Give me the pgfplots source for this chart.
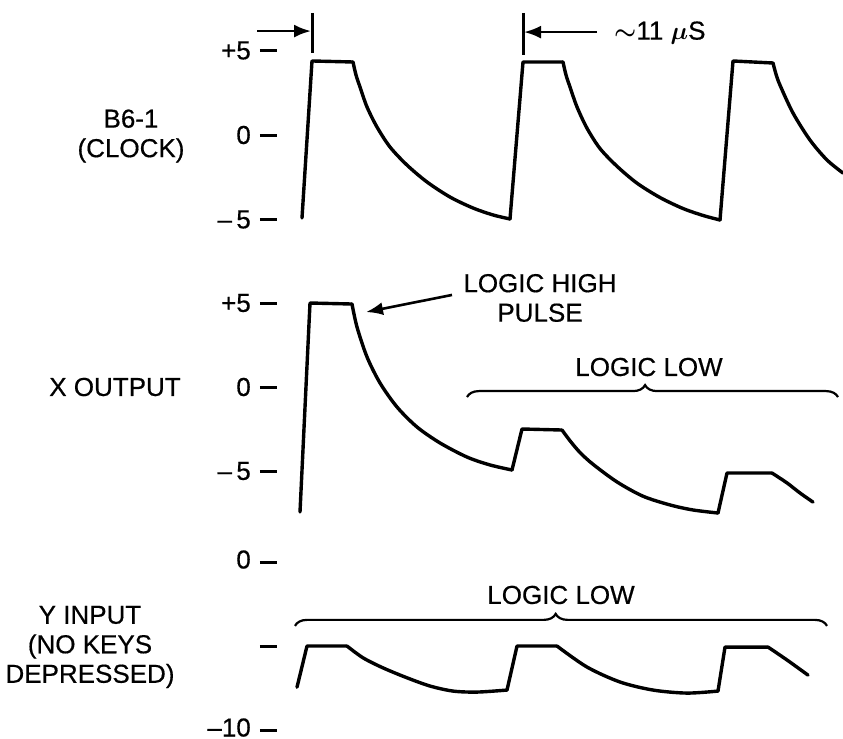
\documentclass[border=0pt]{standalone}
\usepackage{bm}
\usepackage{pgfplots}
\pgfplotsset{compat=1.18}
\usepackage{fontspec}
\setmainfont{Liberation Sans}[UprightFeatures={FakeBold=0.5}]
\usetikzlibrary{arrows.meta,decorations.pathreplacing}
\newcommand{\bigfont}{\fontsize{26bp}{29.5bp}\selectfont}
\pgfplotsset{
  wave/.style={
    scale only axis, width=566bp, xmin=277, xmax=843,
    axis x line=none, axis y line=left,
    y axis line style={draw=none,-},
    tick align=outside, major tick length=17bp,
    ytick pos=left,
    tick style={line width=3bp, black},
    yticklabel style={font=\bigfont, inner sep=0pt, xshift=-9bp},
    clip=false,
  },
  sig/.style={black, line width=3.4bp, line join=round, line cap=round, no marks},
  dec/.style={sig, smooth, tension=0.5},
}
\begin{document}
\begin{tikzpicture}[font=\bigfont]
\path[use as bounding box] (0,0) rectangle (843bp,-739bp);

% ---------- B6-1 (CLOCK) ----------
\begin{axis}[wave, ymin=-6, ymax=6, height=202.8bp,
  at={(277bp,-236.4bp)}, anchor=south west,
  ytick={-5,0,5}, yticklabels={\textendash\,5, 0, +5}]
\addplot[sig] coordinates {(302,-4.91) (312,4.38) (353,4.32)};
\addplot[dec] coordinates {
 (353,4.32) (356,3.55) (360,2.84) (367,1.66) (377,0.47)
 (390,-0.71) (407,-1.78) (427,-2.78) (450,-3.67) (473,-4.32) (493,-4.73) (510,-4.97)};
\addplot[sig] coordinates {(510,-4.97) (523,4.32) (563,4.32)};
\addplot[dec] coordinates {
 (563,4.32) (566,3.55) (570,2.84) (577,1.66) (587,0.40) (600,-0.80)
 (617,-1.85) (637,-2.85) (660,-3.70) (683,-4.35) (703,-4.76) (720,-5.03)};
\addplot[sig] coordinates {(720,-5.03) (733,4.38) (773,4.26)};
\addplot[dec] coordinates {
 (773,4.26) (776,3.60) (780,2.95) (793,1.30) (810,-0.30) (827,-1.48) (843,-2.25)};
\draw[line width=2.6bp, -{Latex[length=17bp,width=13bp]}] (axis cs:257,6.15) -- (axis cs:311,6.15);
\draw[line width=3bp] (axis cs:312,7.22) -- (axis cs:312,4.85);
\draw[line width=3bp] (axis cs:523,7.22) -- (axis cs:523,4.73);
\draw[line width=2.6bp, -{Latex[length=17bp,width=13bp]}] (axis cs:597,6.09) -- (axis cs:524,6.09);
\node[anchor=west, inner sep=0pt] at (axis cs:614,6.04) {$\bm{\sim}$11 $\bm{\mu}$S};
\end{axis}

% ---------- X OUTPUT ----------
\begin{axis}[wave, ymin=-8, ymax=6, height=235.2bp,
  at={(277bp,-521.4bp)}, anchor=south west,
  ytick={-5,0,5}, yticklabels={\textendash\,5, 0, +5}]
\addplot[sig] coordinates {(300,-7.44) (310,5.0) (352,4.94)};
\addplot[dec] coordinates {
 (352,4.94) (357,3.57) (367,1.79) (380,0.24) (397,-1.19)
 (417,-2.38) (440,-3.33) (467,-4.17) (490,-4.64) (512,-4.94)};
\addplot[sig] coordinates {(512,-4.94) (522,-2.5) (562,-2.56)};
\addplot[dec] coordinates {
 (562,-2.56) (570,-3.2) (580,-3.9) (593,-4.6) (617,-5.65) (643,-6.5)
 (670,-7.02) (693,-7.32) (718,-7.5)};
\addplot[sig] coordinates {(718,-7.5) (727,-5.12) (772,-5.12)};
\addplot[dec] coordinates {(772,-5.12) (787,-5.71) (800,-6.31) (813,-6.85)};
\draw[line width=2.6bp, -{Latex[length=17bp,width=13bp]}] (axis cs:452,5.48) -- (axis cs:366,4.46);
\node[align=center, inner sep=0pt] at (axis cs:540,5.30) {LOGIC HIGH\\PULSE};
\node[inner sep=0pt] at (axis cs:649,1.19) {LOGIC LOW};
\draw[line width=2.2bp, decorate, decoration={brace, amplitude=12bp, aspect=0.48}]
  (axis cs:467,-0.6) -- (axis cs:838,-0.6);
\end{axis}

% ---------- Y INPUT ----------
\begin{axis}[wave, ymin=-10.2, ymax=0.5, height=179.76bp,
  at={(277bp,-733.4bp)}, anchor=south west,
  ytick={-10,-5,0}, yticklabels={\textendash10, {}, 0},
  yticklabel style={yshift=2.5bp}]
\addplot[sig] coordinates {(297,-7.45) (307,-5.0) (347,-5.0)};
\addplot[dec] coordinates {
 (347,-5.0) (363,-5.7) (383,-6.3) (407,-6.89) (430,-7.38)
 (453,-7.68) (477,-7.74) (507,-7.62)};
\addplot[sig] coordinates {(507,-7.62) (517,-5.0) (557,-5.0)};
\addplot[dec] coordinates {
 (557,-5.0) (587,-6.25) (620,-7.14) (653,-7.62) (687,-7.80) (718,-7.68)};
\addplot[sig] coordinates {(718,-7.68) (725,-5.06) (768,-5.06)};
\addplot[dec] coordinates {(768,-5.06) (787,-5.83) (808,-6.73)};
\node[inner sep=0pt] at (axis cs:561,-1.96) {LOGIC LOW};
\draw[line width=2.2bp, decorate, decoration={brace, amplitude=12bp, aspect=0.49}]
  (axis cs:295,-3.8) -- (axis cs:827,-3.8);
\end{axis}

% ---------- row labels ----------
\node[align=center, inner sep=0pt] at (131bp,-136bp) {B6-1\\(CLOCK)};
\node[inner sep=0pt] at (115bp,-387bp) {X OUTPUT};
\node[align=center, inner sep=0pt] at (90bp,-647bp) {Y INPUT\\(NO KEYS\\DEPRESSED)};
\end{tikzpicture}
\end{document}
